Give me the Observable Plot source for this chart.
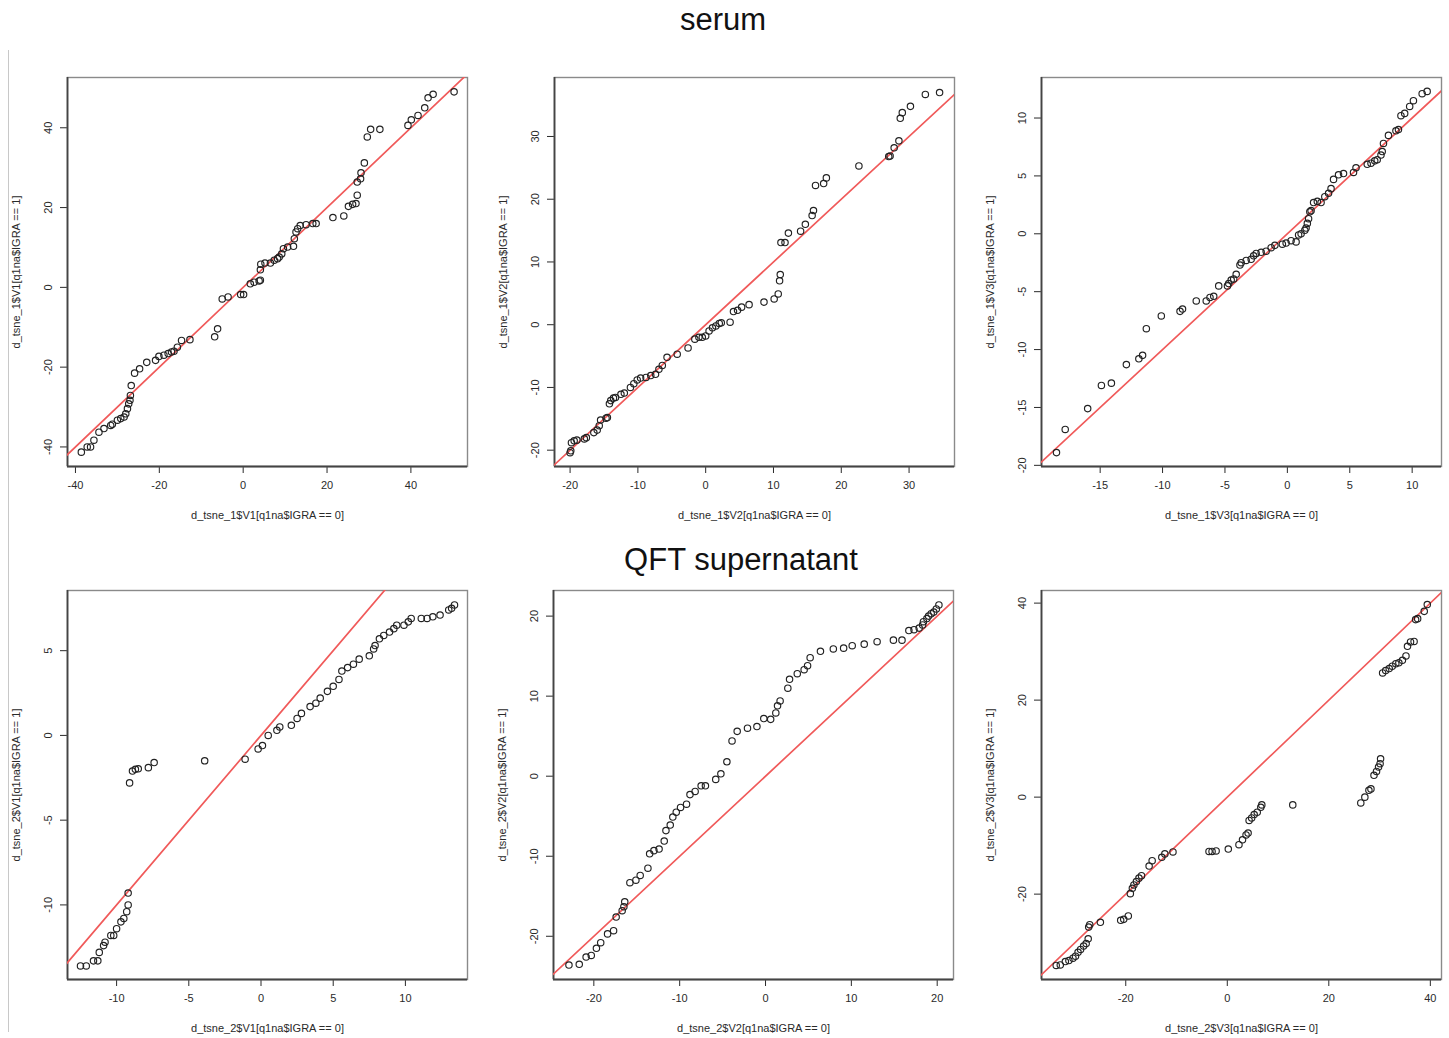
<!DOCTYPE html>
<html><head><meta charset="utf-8">
<script src="https://cdn.jsdelivr.net/npm/d3@7"></script>
<script src="https://cdn.jsdelivr.net/npm/@observablehq/plot@0.6"></script>
<style>
body{margin:0;background:#fff;font-family:"Liberation Sans",Arial,sans-serif;}
#page{position:relative;width:1449px;height:1038px;overflow:hidden;background:#fff;}
.title{position:absolute;font-size:31px;color:#111;transform:translate(-50%,-50%);white-space:nowrap;}
.panel{position:absolute;}
#vline{position:absolute;left:8px;top:50px;width:1px;height:982px;background:#c8c8c8;}
</style></head><body>
<div id="page"><div id="vline"></div></div>
<script>
// Q-Q pairs: [quantile of IGRA==0, quantile of IGRA==1]
const serumV1 = [[-38.6,-41.3],[-37.2,-40.0],[-36.4,-40.0],[-35.6,-38.3],[-34.4,-36.3],[-33.2,-35.4],[-31.6,-34.6],[-31.2,-34.3],[-30.0,-33.3],[-29.2,-32.9],[-28.4,-32.5],[-28.0,-31.7],[-27.6,-30.4],[-27.3,-29.2],[-27.0,-28.3],[-26.9,-27.1],[-26.7,-24.6],[-25.9,-21.5],[-24.7,-20.4],[-23.0,-18.8],[-20.9,-18.3],[-20.1,-17.3],[-18.9,-17.0],[-17.9,-16.6],[-17.1,-16.2],[-16.5,-16.0],[-15.7,-15.0],[-14.7,-13.3],[-12.7,-13.1],[-6.8,-12.4],[-6.1,-10.4],[-5.0,-2.9],[-3.6,-2.4],[-0.6,-1.8],[0.1,-1.8],[1.7,0.9],[2.6,1.3],[3.8,1.6],[4.1,1.8],[4.1,4.4],[4.2,5.8],[5.2,6.1],[6.5,6.1],[7.4,6.8],[8.2,7.2],[8.6,7.6],[9.2,8.4],[9.6,9.7],[10.6,10.1],[12.0,10.3],[12.2,12.2],[12.6,13.9],[13.0,14.7],[13.6,15.5],[15.0,15.7],[16.6,16.0],[17.4,16.0],[21.4,17.5],[24.0,17.9],[25.1,20.3],[26.1,20.8],[26.9,21.0],[27.2,23.1],[27.2,26.4],[28.0,27.2],[28.1,28.7],[28.9,31.2],[29.6,37.7],[30.4,39.6],[32.6,39.6],[39.3,40.6],[40.1,42.0],[41.7,43.1],[43.3,45.0],[44.1,47.5],[45.3,48.4],[50.3,49.0]];
const serumV2 = [[-20.0,-20.4],[-19.9,-20.1],[-19.8,-18.8],[-19.4,-18.5],[-19.0,-18.4],[-17.9,-18.2],[-17.6,-18.0],[-16.5,-17.2],[-16.0,-16.8],[-15.7,-16.1],[-15.5,-15.2],[-14.7,-14.9],[-14.5,-14.8],[-14.2,-12.6],[-14.0,-12.1],[-13.6,-11.7],[-13.3,-11.6],[-12.5,-11.1],[-12.0,-10.9],[-11.1,-10.0],[-10.6,-9.4],[-10.1,-8.8],[-9.6,-8.5],[-8.8,-8.4],[-8.1,-8.1],[-7.4,-7.9],[-6.9,-7.1],[-6.4,-6.5],[-5.7,-5.2],[-4.2,-4.7],[-2.6,-3.7],[-1.6,-2.3],[-1.0,-2.0],[-0.5,-2.0],[0.0,-1.8],[0.5,-1.0],[1.0,-0.5],[1.5,-0.2],[2.0,0.2],[2.3,0.3],[3.6,0.4],[4.1,2.1],[4.7,2.3],[5.3,2.8],[6.4,3.2],[8.6,3.6],[10.1,4.1],[10.7,4.9],[10.9,7.0],[11.0,8.0],[11.1,13.1],[11.7,13.1],[12.2,14.6],[14.0,14.9],[14.7,16.0],[15.7,17.4],[15.9,18.2],[16.2,22.2],[17.4,22.5],[17.8,23.4],[22.6,25.3],[27.0,26.8],[27.2,26.9],[27.8,28.2],[28.5,29.3],[28.7,32.9],[29.0,33.8],[30.2,34.8],[32.4,36.7],[34.5,37.0]];
const serumV3 = [[-18.5,-18.9],[-17.8,-16.9],[-16.0,-15.1],[-14.9,-13.1],[-14.1,-12.9],[-12.9,-11.3],[-11.9,-10.8],[-11.6,-10.5],[-11.3,-8.2],[-10.1,-7.1],[-8.6,-6.7],[-8.4,-6.5],[-7.3,-5.8],[-6.5,-5.8],[-6.2,-5.5],[-5.9,-5.4],[-5.5,-4.5],[-4.8,-4.5],[-4.7,-4.3],[-4.5,-4.0],[-4.3,-3.9],[-4.1,-3.5],[-3.8,-2.7],[-3.7,-2.5],[-3.3,-2.3],[-2.9,-2.2],[-2.7,-1.9],[-2.5,-1.7],[-2.1,-1.6],[-1.7,-1.5],[-1.3,-1.2],[-1.0,-1.0],[-0.4,-0.9],[-0.1,-0.8],[0.3,-0.6],[0.7,-0.7],[0.9,-0.1],[1.1,0.0],[1.4,0.3],[1.5,0.5],[1.6,0.9],[1.7,1.3],[1.8,1.9],[1.9,2.0],[2.1,2.7],[2.4,2.8],[2.7,2.7],[3.0,3.2],[3.3,3.5],[3.5,3.9],[3.7,4.7],[4.1,5.1],[4.5,5.2],[5.3,5.3],[5.5,5.7],[6.4,6.0],[6.7,6.1],[7.0,6.3],[7.2,6.4],[7.5,6.8],[7.6,7.1],[7.7,7.8],[8.1,8.5],[8.7,8.9],[8.9,9.0],[9.1,10.2],[9.4,10.4],[9.8,11.0],[10.1,11.5],[10.8,12.1],[11.2,12.3]];
const qftV1 = [[-12.5,-13.6],[-12.1,-13.6],[-11.6,-13.3],[-11.3,-13.3],[-11.2,-12.8],[-10.9,-12.4],[-10.8,-12.2],[-10.4,-11.8],[-10.2,-11.8],[-10.0,-11.4],[-9.7,-11.0],[-9.5,-10.8],[-9.3,-10.4],[-9.2,-10.0],[-9.2,-9.3],[-9.1,-2.8],[-8.9,-2.1],[-8.7,-2.0],[-8.5,-1.97],[-7.8,-1.9],[-7.4,-1.6],[-3.9,-1.5],[-1.1,-1.4],[-0.2,-0.8],[0.1,-0.6],[0.5,0.0],[1.1,0.3],[1.3,0.5],[2.1,0.6],[2.5,1.0],[2.8,1.3],[3.4,1.7],[3.8,1.9],[4.1,2.2],[4.6,2.6],[5.0,2.9],[5.4,3.3],[5.6,3.8],[6.0,4.0],[6.4,4.2],[6.8,4.5],[7.5,4.7],[7.8,5.1],[7.9,5.3],[8.2,5.7],[8.5,5.9],[8.9,6.1],[9.2,6.3],[9.4,6.5],[9.9,6.5],[10.2,6.7],[10.4,6.9],[11.1,6.9],[11.5,6.9],[11.9,7.0],[12.4,7.1],[13.0,7.4],[13.2,7.5],[13.4,7.7]];
const qftV2 = [[-22.9,-23.6],[-21.7,-23.5],[-20.9,-22.6],[-20.3,-22.4],[-19.7,-21.5],[-19.2,-20.8],[-18.4,-19.7],[-17.7,-19.3],[-17.4,-17.6],[-16.7,-16.8],[-16.5,-16.3],[-16.4,-15.7],[-15.8,-13.3],[-15.1,-13.0],[-14.6,-12.4],[-13.7,-11.5],[-13.5,-9.7],[-13.0,-9.3],[-12.4,-9.1],[-11.8,-8.1],[-11.6,-6.8],[-11.1,-6.1],[-10.8,-5.1],[-10.4,-4.5],[-9.9,-3.9],[-9.2,-3.5],[-8.8,-2.3],[-8.2,-1.9],[-7.5,-1.2],[-7.0,-1.2],[-5.8,-0.4],[-5.2,0.3],[-4.5,1.8],[-3.9,4.4],[-3.3,5.6],[-2.1,6.0],[-1.0,6.2],[-0.2,7.2],[0.6,7.1],[1.2,7.9],[1.4,8.8],[1.7,9.4],[2.6,11.0],[2.8,12.1],[3.7,12.8],[4.5,13.3],[4.9,13.8],[5.2,14.8],[6.4,15.6],[7.9,15.9],[9.1,16.0],[10.1,16.3],[11.5,16.5],[13.0,16.8],[14.9,17.0],[15.9,17.0],[16.7,18.2],[17.3,18.3],[17.9,18.5],[18.3,18.9],[18.4,19.3],[18.8,19.7],[19.0,20.0],[19.3,20.3],[19.6,20.5],[19.9,20.9],[20.2,21.4]];
const qftV3 = [[-33.7,-34.7],[-32.9,-34.6],[-31.9,-33.9],[-31.2,-33.7],[-30.4,-33.2],[-29.9,-32.8],[-29.4,-32.0],[-28.9,-31.4],[-28.3,-30.7],[-27.8,-30.2],[-27.4,-29.2],[-27.3,-26.8],[-27.1,-26.3],[-25.0,-25.8],[-21.0,-25.4],[-20.4,-25.2],[-19.5,-24.5],[-19.1,-19.9],[-18.7,-18.8],[-18.4,-18.1],[-17.9,-17.4],[-17.4,-16.7],[-16.9,-16.2],[-15.4,-14.2],[-14.8,-13.1],[-12.9,-12.4],[-12.3,-11.7],[-10.7,-11.3],[-3.6,-11.2],[-3.0,-11.2],[-2.2,-11.1],[0.2,-10.7],[2.3,-9.8],[3.0,-8.8],[3.7,-7.8],[4.1,-7.4],[4.3,-4.8],[4.8,-4.3],[5.3,-3.6],[5.9,-3.1],[6.6,-2.1],[6.8,-1.6],[12.9,-1.6],[26.3,-1.2],[27.1,0.0],[27.9,1.4],[28.3,1.7],[28.9,4.5],[29.4,5.3],[29.8,6.2],[30.1,6.9],[30.2,7.9],[30.6,25.6],[31.2,26.1],[31.9,26.5],[32.5,27.0],[33.2,27.5],[33.8,27.7],[34.5,28.2],[35.2,29.1],[35.5,31.1],[36.1,32.0],[36.8,32.1],[37.1,36.6],[37.5,36.8],[38.8,38.3],[39.4,39.7]];

const ticksSerumV1X = [-40,-20,0,20,40], ticksSerumV1Y = [-40,-20,0,20,40];
const ticksSerumV2X = [-20,-10,0,10,20,30], ticksSerumV2Y = [-20,-10,0,10,20,30];
const ticksSerumV3X = [-15,-10,-5,0,5,10], ticksSerumV3Y = [-20,-15,-10,-5,0,5,10];
const ticksQftV1X = [-10,-5,0,5,10], ticksQftV1Y = [-10,-5,0,5];
const ticksQftV2X = [-20,-10,0,10,20], ticksQftV2Y = [-20,-10,0,10,20];
const ticksQftV3X = [-20,0,20,40], ticksQftV3Y = [-20,0,20,40];

const sectionTitles = ["serum", "QFT supernatant"];

const panels = [
  {data: serumV1, xt: ticksSerumV1X, yt: ticksSerumV1Y, xd: [-41.9, 53.5], yd: [-44.9, 52.6], xl: "d_tsne_1$V1[q1na$IGRA == 0]", yl: "d_tsne_1$V1[q1na$IGRA == 1]", left: 67, top: 77},
  {data: serumV2, xt: ticksSerumV2X, yt: ticksSerumV2Y, xd: [-22.3, 36.7], yd: [-22.6, 39.4], xl: "d_tsne_1$V2[q1na$IGRA == 0]", yl: "d_tsne_1$V2[q1na$IGRA == 1]", left: 554, top: 77},
  {data: serumV3, xt: ticksSerumV3X, yt: ticksSerumV3Y, xd: [-19.7, 12.35], yd: [-20.1, 13.5], xl: "d_tsne_1$V3[q1na$IGRA == 0]", yl: "d_tsne_1$V3[q1na$IGRA == 1]", left: 1041, top: 77},
  {data: qftV1, xt: ticksQftV1X, yt: ticksQftV1Y, xd: [-13.4, 14.3], yd: [-14.4, 8.55], xl: "d_tsne_2$V1[q1na$IGRA == 0]", yl: "d_tsne_2$V1[q1na$IGRA == 1]", left: 67, top: 590},
  {data: qftV2, xt: ticksQftV2X, yt: ticksQftV2Y, xd: [-24.7, 21.9], yd: [-25.4, 23.2], xl: "d_tsne_2$V2[q1na$IGRA == 0]", yl: "d_tsne_2$V2[q1na$IGRA == 1]", left: 553, top: 590},
  {data: qftV3, xt: ticksQftV3X, yt: ticksQftV3Y, xd: [-36.6, 42.2], yd: [-37.6, 42.6], xl: "d_tsne_2$V3[q1na$IGRA == 0]", yl: "d_tsne_2$V3[q1na$IGRA == 1]", left: 1041, top: 590}
];

const page = document.getElementById("page");
const FW = 400, FH = 389, mL = 66, mR = 8, mT = 6, mB = 62;
const fmt = d => String(d);

for (const p of panels) {
  const lo = Math.min(p.xd[0], p.yd[0]) - 10, hi = Math.max(p.xd[1], p.yd[1]) + 10;
  const chart = Plot.plot({
    width: FW + mL + mR, height: FH + mT + mB,
    marginLeft: mL, marginRight: mR, marginTop: mT, marginBottom: mB,
    style: {fontFamily: '"Liberation Sans", Arial, sans-serif', fontSize: "11px", color: "#2a2a2a", background: "transparent", overflow: "visible"},
    x: {domain: p.xd, ticks: p.xt, tickFormat: fmt, tickSize: 7, tickPadding: 8, label: p.xl, labelAnchor: "center", labelOffset: 52, labelArrow: "none"},
    y: {domain: p.yd, ticks: p.yt, tickFormat: fmt, tickSize: 7, tickPadding: 9, tickRotate: -90, label: p.yl, labelAnchor: "center", labelOffset: 55, labelArrow: "none"},
    marks: [
      Plot.frame({stroke: "#8a8a8a", strokeWidth: 1.4}),
      Plot.ruleY([p.yd[0]], {stroke: "#444", strokeWidth: 1.8}),
      Plot.ruleX([p.xd[0]], {stroke: "#444", strokeWidth: 1.8}),
      Plot.line([lo, hi], {x: d => d, y: d => d, stroke: "#f05a5a", strokeWidth: 1.7, clip: true}),
      Plot.dot(p.data, {x: d => d[0], y: d => d[1], r: 3.2, stroke: "#222", strokeWidth: 1.15, fill: "none"})
    ]
  });
  chart.classList.add("panel");
  chart.style.left = (p.left - mL) + "px";
  chart.style.top = (p.top - mT) + "px";
  page.appendChild(chart);
}

const t1 = document.createElement("div");
t1.className = "title"; t1.textContent = sectionTitles[0];
t1.style.left = "723px"; t1.style.top = "20px";
page.appendChild(t1);
const t2 = document.createElement("div");
t2.className = "title"; t2.textContent = sectionTitles[1];
t2.style.left = "741px"; t2.style.top = "560px";
page.appendChild(t2);
</script>
</body></html>
